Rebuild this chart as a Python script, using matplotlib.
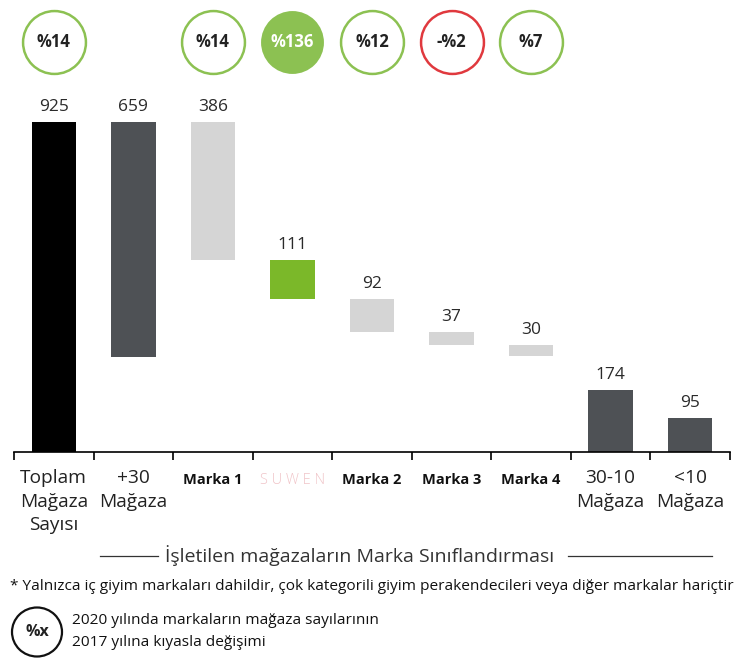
import matplotlib.pyplot as plt
from matplotlib.transforms import blended_transform_factory
from matplotlib.patches import Ellipse

plt.rcParams['font.family'] = ['Open Sans', 'DejaVu Sans']

categories = ["Toplam\nMağaza\nSayısı", "+30\nMağaza", "Marka 1", "SUWEN", "Marka 2",
              "Marka 3", "Marka 4", "30-10\nMağaza", "<10\nMağaza"]
values = [925, 659, 386, 111, 92, 37, 30, 174, 95]
changes = ["%14", None, "%14", "%136", "%12", "-%2", "%7", None, None]

# waterfall bases: brands step down from the total
bases = [0, values[0] - values[1]]
top = values[0]
for v in values[2:7]:
    top -= v
    bases.append(top)
bases += [0, 0]

colors = ["#000000", "#4e5155", "#d5d5d5", "#7bb829", "#d5d5d5", "#d5d5d5", "#d5d5d5",
          "#4e5155", "#4e5155"]
green = "#8cc152"
red = "#e0393e"

W, H = 743, 662
fig = plt.figure(figsize=(W / 100, H / 100), dpi=100)
ax = fig.add_axes([14 / W, (H - 452) / H, (730 - 14) / W, 352 / H])

x = list(range(len(values)))
ax.bar(x, values, bottom=bases, width=0.56, color=colors)
ax.set_xlim(-0.5, len(values) - 0.5)
ax.set_ylim(0, 925 * 352 / 330)

for xi, v, b in zip(x, values, bases):
    ax.annotate(str(v), (xi, v + b), xytext=(0, 5), textcoords="offset points",
                ha="center", va="bottom", fontsize=12.5, color="#2a2a2a")

for s in ["top", "right", "left"]:
    ax.spines[s].set_visible(False)
ax.spines["bottom"].set_linewidth(1.2)
ax.set_yticks([])
ax.set_xticks(x)
ax.set_xticklabels([])
ax.tick_params(axis="x", which="major", length=0)
ax.set_xticks([i - 0.5 for i in range(len(values) + 1)], minor=True)
ax.tick_params(axis="x", which="minor", length=6, width=1.2, direction="out")

# category labels
tr = blended_transform_factory(ax.transData, fig.transFigure)
for xi, lab in zip(x, categories):
    if lab.startswith("Marka"):
        ax.text(xi, (H - 480) / H, lab, transform=tr, ha="center", va="center",
                fontsize=10.5, fontweight="bold", color="#111111")
    elif lab == "SUWEN":
        ax.text(xi, (H - 480) / H, "S U W E N", transform=tr, ha="center", va="center",
                fontsize=10.5, color="#f0c4c8", fontweight="light")
    else:
        ax.text(xi, (H - 469) / H, lab, transform=tr, ha="center", va="top",
                fontsize=13.8, color="#222222", linespacing=1.4)

# change circles
for xi, c in zip(x, changes):
    if c is None:
        continue
    ec = red if c.startswith("-") else green
    filled = c == "%136"
    ax.scatter([xi], [(H - 42) / H], s=2050, transform=tr, clip_on=False,
               facecolor=green if filled else "white", edgecolor=ec,
               linewidth=1.8 if not filled else 0, zorder=3)
    ax.text(xi, (H - 42) / H, c, transform=tr, ha="center", va="center",
            fontsize=12, fontweight="bold", color="white" if filled else "#222222",
            zorder=4)

# group caption
fig.text(360 / W, (H - 556) / H, "İşletilen mağazaların Marka Sınıflandırması",
         ha="center", va="center", fontsize=14, color="#333333")
fig.add_artist(plt.Line2D([100 / W, 158 / W], [(H - 556) / H] * 2, color="#333333", lw=0.9))
fig.add_artist(plt.Line2D([568 / W, 712 / W], [(H - 556) / H] * 2, color="#333333", lw=0.9))

fig.text(10 / W, (H - 587) / H,
         "* Yalnızca iç giyim markaları dahildir, çok kategorili giyim perakendecileri veya diğer markalar hariçtir",
         ha="left", va="center", fontsize=11.1, color="#111111")

# legend
fig.add_artist(Ellipse((37 / W, (H - 632) / H), 50 / W, 49 / H, transform=fig.transFigure,
                       facecolor="white", edgecolor="#111111", lw=1.6))
fig.text(37 / W, (H - 632) / H, "%x", ha="center", va="center", fontsize=11.5,
         fontweight="bold", color="#222222")
fig.text(72 / W, (H - 620) / H, "2020 yılında markaların mağaza sayılarının",
         ha="left", va="center", fontsize=11.1, color="#111111")
fig.text(72 / W, (H - 643) / H, "2017 yılına kıyasla değişimi",
         ha="left", va="center", fontsize=11.1, color="#111111")

fig.savefig("out.png", dpi=100)
